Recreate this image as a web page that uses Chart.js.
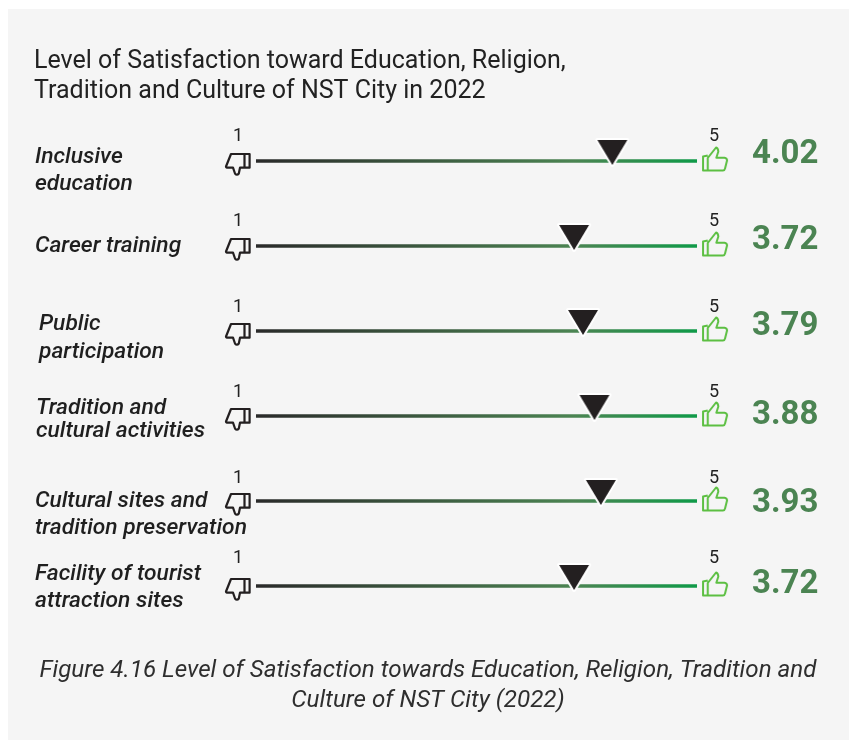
<!DOCTYPE html>
<html>
<head>
<meta charset="utf-8">
<title>Level of Satisfaction</title>
<style>
html,body{margin:0;padding:0;background:#fff;overflow:hidden}
canvas{display:block}
</style>
<script src="https://cdn.jsdelivr.net/npm/chart.js@4/dist/chart.umd.min.js"></script>
</head>
<body>
<canvas id="c" width="849" height="740"></canvas>
<script>
const categories = [
  ["Inclusive", "education"],
  ["Career training"],
  ["Public", "participation"],
  ["Tradition and", "cultural activities"],
  ["Cultural sites and", "tradition preservation"],
  ["Facility of tourist", "attraction sites"]
];
const scores = [4.02, 3.72, 3.79, 3.88, 3.93, 3.72];
const scaleLowLabel = "1";
const scaleHighLabel = "5";
const titleLines = ["Level of Satisfaction toward Education, Religion,", "Tradition and Culture of NST City in 2022"];
const captionLines = ["Figure 4.16 Level of Satisfaction towards Education, Religion, Tradition and", "Culture of NST City (2022)"];
// The drawn track is shorter than the 1-5 span of the axis in the source graphic.
const trackStart = 1.225;
const trackEnd = 4.684;

const FONT = 'Roboto, sans-serif';
const rows = categories.map((_, i) => i);

function iconCanvas(w, h, draw) {
  const cv = document.createElement('canvas');
  cv.width = w; cv.height = h;
  draw(cv.getContext('2d'));
  return cv;
}
const markerIcon = iconCanvas(44, 60, g => {
  g.beginPath();
  g.moveTo(7, 9); g.lineTo(37, 9); g.lineTo(22, 34); g.closePath();
  g.lineJoin = 'round';
  g.lineWidth = 4; g.strokeStyle = '#ffffff'; g.fillStyle = '#231f20';
  g.stroke(); g.fill();
});
const thumbUp = iconCanvas(60, 60, g => {
  g.translate(18, 15);
  g.strokeStyle = '#5cbf42'; g.lineWidth = 2; g.lineJoin = 'round';
  g.beginPath();
  g.moveTo(5.7, 9.5); g.lineTo(1, 10.5); g.lineTo(1, 24.5); g.lineTo(21, 24.5);
  g.quadraticCurveTo(22.5, 24.5, 23, 22.5); g.lineTo(25, 14.5);
  g.quadraticCurveTo(25, 12, 22.5, 11.7); g.lineTo(14.3, 11.7);
  g.lineTo(16.3, 5.5); g.quadraticCurveTo(16, 2, 14, 1.5);
  g.lineTo(5.7, 12); g.lineTo(5.7, 24.5);
  g.stroke();
});
const thumbDown = iconCanvas(60, 60, g => {
  g.translate(17, 22);
  g.strokeStyle = '#231f20'; g.lineWidth = 2.2; g.lineJoin = 'round';
  g.beginPath();
  g.moveTo(24.6, 1); g.lineTo(6, 1); g.lineTo(1, 13.5); g.quadraticCurveTo(1, 14.7, 3, 14.7);
  g.lineTo(8, 14.7); g.lineTo(10, 20.5); g.quadraticCurveTo(12, 23, 13.8, 20.5);
  g.lineTo(15, 14.7); g.lineTo(24.6, 14.7); g.lineTo(24.6, 1); g.closePath();
  g.moveTo(19.5, 1); g.lineTo(19.5, 14.7);
  g.stroke();
});

function trackGradient(ctx) {
  const { chart } = ctx;
  if (!chart.chartArea) return '#4b7d55';
  const xs = chart.scales.x;
  const gr = chart.ctx.createLinearGradient(xs.getPixelForValue(trackStart), 0, xs.getPixelForValue(trackEnd), 0);
  gr.addColorStop(0, '#2a2a2a');
  gr.addColorStop(0.72, '#4b8452');
  gr.addColorStop(1, '#0f9a48');
  return gr;
}

const datasets = [];
rows.forEach(i => {
  datasets.push({
    type: 'line', label: categories[i].join(' ') + ' track',
    data: [{ x: trackStart, y: i }, { x: trackEnd, y: i }],
    borderColor: trackGradient, borderWidth: 3.5, pointRadius: 0, clip: false, order: 3
  });
});
datasets.push({
  type: 'scatter', label: 'Satisfaction score',
  data: rows.map(i => ({ x: scores[i], y: i })),
  pointStyle: markerIcon, pointRadius: 22, clip: false, order: 1
});

const textPlugin = {
  id: 'textPlugin',
  beforeDraw(chart) {
    const g = chart.ctx;
    g.save();
    g.fillStyle = '#f5f5f5';
    g.fillRect(8, 9, chart.width - 8, chart.height - 9);
    g.restore();
  },
  afterDatasetsDraw(chart) {
    const g = chart.ctx, xs = chart.scales.x, ys = chart.scales.y;
    g.save();
    g.textBaseline = 'middle';
    // heading
    g.font = '400 25px ' + FONT; g.fillStyle = '#222222'; g.textAlign = 'left';
    titleLines.forEach((t, k) => g.fillText(t, 34, 62 + k * 29.5));
    // rows
    const labelX = [35, 35, 39, 36, 35, 35];
    const labelY = [[157, 184], [246], [324, 352], [408, 431], [501, 528], [574, 601]];
    const valueY = [155, 241, 327, 416, 504, 585];
    const tickY = [136, 221, 307, 392, 478, 558];
    rows.forEach(i => {
      const y = ys.getPixelForValue(i);
      const x0 = xs.getPixelForValue(trackStart), x1 = xs.getPixelForValue(trackEnd);
      g.drawImage(thumbDown, x0 - 31 - 17, y - 8 - 22);
      g.drawImage(thumbUp, x1 + 5 - 18, y - 15 - 15);
      g.font = '400 18px ' + FONT; g.fillStyle = '#222222'; g.textAlign = 'center';
      g.fillText(scaleLowLabel, x0 - 18, tickY[i]);
      g.fillText(scaleHighLabel, x1 + 17, tickY[i]);
      g.font = 'italic 500 22.8px ' + FONT; g.fillStyle = '#1f1f1f'; g.textAlign = 'left';
      categories[i].forEach((t, k) => g.fillText(t, labelX[i], labelY[i][k]));
      g.font = '700 33px ' + FONT; g.fillStyle = '#4b8452'; g.textAlign = 'left';
      g.fillText(scores[i].toFixed(2), 752, valueY[i]);
    });
    // caption
    g.font = 'italic 400 24.2px ' + FONT; g.fillStyle = '#2e2e2e'; g.textAlign = 'center';
    captionLines.forEach((t, k) => g.fillText(t, 428, 671 + k * 30));
    g.restore();
  }
};

new Chart(document.getElementById('c'), {
  data: { datasets },
  plugins: [textPlugin],
  options: {
    responsive: false,
    animation: false,
    events: [],
    layout: { padding: { left: 227.3, right: 111.7, top: 161, bottom: 154 } },
    plugins: { legend: { display: false }, title: { display: false }, tooltip: { enabled: false } },
    scales: {
      x: { type: 'linear', min: 1, max: 5, display: false },
      y: { type: 'linear', min: 0, max: categories.length - 1, reverse: true, display: false }
    }
  }
});
</script>
</body>
</html>
